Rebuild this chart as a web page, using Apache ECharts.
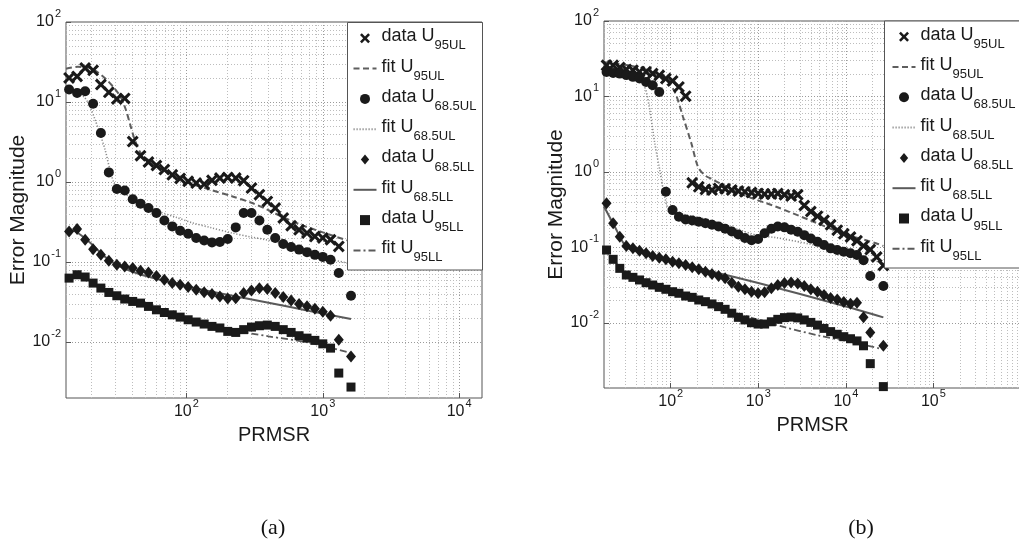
<!DOCTYPE html>
<html>
<head>
<meta charset="utf-8">
<script src="https://cdn.jsdelivr.net/npm/echarts@6/dist/echarts.min.js"></script>
<style>
  html, body { margin: 0; padding: 0; background: #fff; }
  #chart { width: 1019px; height: 556px; }
</style>
</head>
<body>
<div id="chart"></div>
<script>
// ---------- Panel (a) ----------
const xA = [13.8, 15.8, 18.1, 20.7, 23.6, 27.0, 30.9, 35.3, 40.4, 46.1, 52.7, 60.3, 68.9, 78.8, 90.0, 103, 118, 135, 154, 176, 201, 230, 263, 300, 343, 392, 448, 513, 586, 670, 766, 875, 1000, 1140, 1310, 1610];
const a_u95ul = [20.0, 20.9, 26.6, 24.9, 16.5, 13.2, 10.9, 11.1, 3.2, 2.13, 1.78, 1.61, 1.43, 1.23, 1.11, 1.02, 0.97, 0.94, 1.05, 1.12, 1.14, 1.12, 1.04, 0.84, 0.695, 0.573, 0.473, 0.355, 0.284, 0.253, 0.23, 0.209, 0.2, 0.19, 0.157, null];
const a_u685ul = [14.3, 13.0, 13.6, 9.5, 4.1, 1.32, 0.82, 0.785, 0.61, 0.537, 0.473, 0.41, 0.331, 0.279, 0.246, 0.226, 0.2, 0.186, 0.176, 0.178, 0.194, 0.271, 0.41, 0.41, 0.331, 0.253, 0.2, 0.168, 0.154, 0.143, 0.133, 0.123, 0.116, 0.107, 0.073, 0.038];
const a_u685ll = [0.241, 0.259, 0.19, 0.145, 0.123, 0.104, 0.0925, 0.088, 0.084, 0.078, 0.074, 0.067, 0.060, 0.0546, 0.052, 0.0487, 0.045, 0.042, 0.040, 0.037, 0.035, 0.0353, 0.041, 0.044, 0.047, 0.046, 0.041, 0.0365, 0.033, 0.030, 0.028, 0.026, 0.024, 0.0213, 0.0107, 0.0066];
const a_u95ll = [0.063, 0.0694, 0.065, 0.0546, 0.0473, 0.0417, 0.0379, 0.0345, 0.0322, 0.0307, 0.0279, 0.0253, 0.0234, 0.0219, 0.0205, 0.019, 0.0178, 0.0168, 0.0157, 0.015, 0.0136, 0.0132, 0.0143, 0.0154, 0.016, 0.0163, 0.0157, 0.0143, 0.0132, 0.012, 0.0112, 0.0105, 0.0095, 0.0084, 0.0041, 0.00274];

const a_fit95ul = [[13.1, 26], [16, 27.5], [19, 27], [22, 24], [26, 19], [30, 14.5], [33, 11.5], [36, 8], [39, 5.0], [42, 3.3], [47, 2.2], [55, 1.8], [75, 1.3], [100, 1.0], [150, 0.8], [218, 0.66], [300, 0.55], [384, 0.46], [500, 0.37], [700, 0.29], [1000, 0.235], [1610, 0.18]];
const a_fit685ul = [[13.1, 14], [15.6, 13], [17.8, 11.5], [19.5, 9], [21.4, 6.0], [23.3, 4], [25.4, 2.5], [27.5, 1.43], [30, 0.9], [33, 0.75], [40, 0.64], [50, 0.52], [65, 0.42], [85, 0.36], [110, 0.31], [150, 0.27], [218, 0.23], [300, 0.205], [384, 0.19], [500, 0.17], [700, 0.145], [1000, 0.115], [1610, 0.095]];
const a_fit685ll = [[13.1, 0.255], [15, 0.245], [17, 0.215], [20, 0.17], [23, 0.135], [26, 0.112], [30, 0.095], [35, 0.083], [45, 0.071], [60, 0.062], [100, 0.050], [200, 0.039], [400, 0.031], [800, 0.0245], [1610, 0.0194]];
const a_fit95ll = [[13.1, 0.066], [16, 0.065], [18, 0.06], [21, 0.052], [25, 0.045], [30, 0.04], [40, 0.034], [60, 0.027], [100, 0.02], [200, 0.0145], [400, 0.0118], [800, 0.0098], [1610, 0.0073]];

// ---------- Panel (b) ----------
const xB = [18.5, 22.0, 26.2, 31.1, 37.0, 44.0, 52.3, 62.2, 74.0, 88.0, 105, 124, 148, 176, 209, 249, 296, 352, 418, 498, 592, 704, 837, 995, 1180, 1410, 1670, 1990, 2370, 2820, 3350, 3980, 4740, 5630, 6700, 7970, 9470, 11300, 13400, 15900, 19000, 22500, 26800];
const b_u95ul = [25.9, 25.9, 24.2, 22.8, 22.3, 21.2, 21.2, 20.1, 19.1, 17.3, 16.1, 13.4, 10.1, 0.72, 0.637, 0.589, 0.577, 0.607, 0.6, 0.577, 0.56, 0.547, 0.535, 0.521, 0.51, 0.51, 0.52, 0.5, 0.48, 0.5, 0.36, 0.3, 0.26, 0.23, 0.2, 0.17, 0.152, 0.138, 0.123, 0.105, 0.094, 0.075, 0.058];
const b_u685ul = [21.1, 20.5, 20.1, 19.2, 18.2, 17.3, 15.6, 14.1, 11.5, 0.547, 0.313, 0.255, 0.236, 0.228, 0.22, 0.21, 0.2, 0.19, 0.177, 0.163, 0.149, 0.134, 0.125, 0.13, 0.155, 0.177, 0.19, 0.185, 0.172, 0.162, 0.146, 0.132, 0.119, 0.108, 0.0975, 0.093, 0.088, 0.084, 0.0795, 0.068, 0.042, null, 0.031];
const b_u685ll = [0.385, 0.209, 0.139, 0.105, 0.0975, 0.0908, 0.0837, 0.0772, 0.0733, 0.0698, 0.0649, 0.0618, 0.0587, 0.0547, 0.0515, 0.0479, 0.0447, 0.042, 0.0392, 0.0342, 0.0303, 0.028, 0.026, 0.0248, 0.0255, 0.029, 0.032, 0.034, 0.0345, 0.0335, 0.031, 0.028, 0.026, 0.0235, 0.0215, 0.0205, 0.019, 0.018, 0.0186, 0.0119, 0.0075, null, 0.005];
const b_u95ll = [0.0927, 0.0698, 0.053, 0.0433, 0.0403, 0.0372, 0.0342, 0.0319, 0.0297, 0.028, 0.026, 0.0248, 0.0228, 0.0219, 0.0202, 0.0192, 0.0179, 0.0165, 0.0152, 0.0135, 0.0119, 0.011, 0.0101, 0.0097, 0.0097, 0.0104, 0.0112, 0.0118, 0.012, 0.0117, 0.011, 0.0102, 0.0094, 0.0085, 0.0077, 0.0071, 0.0066, 0.0062, 0.0058, 0.005, 0.0029, null, 0.00144];

const b_fit95ul = [[17.3, 28.5], [32.6, 25.9], [55, 22.3], [85, 17.3], [111, 11.5], [138, 5.4], [172, 2.4], [205, 1.17], [244, 0.91], [300, 0.8], [400, 0.67], [667, 0.5], [1600, 0.347], [3845, 0.231], [9230, 0.154], [22100, 0.114], [26800, 0.105]];
const b_fit685ul = [[17.3, 23], [25, 22], [32, 20.5], [42.4, 18.2], [50.6, 13.4], [57.7, 6.6], [65.8, 2.4], [75, 1.06], [85.4, 0.47], [97, 0.31], [150, 0.27], [279, 0.231], [949, 0.146], [1600, 0.135], [4000, 0.11], [14300, 0.0755], [26800, 0.062]];
const b_fit685ll = [[17.3, 0.35], [23, 0.188], [29.8, 0.108], [35.6, 0.093], [60, 0.079], [100, 0.067], [300, 0.048], [1000, 0.034], [3000, 0.0242], [10000, 0.0166], [26800, 0.0119]];
const b_fit95ll = [[17.3, 0.095], [22, 0.07], [26, 0.055], [35.6, 0.042], [60, 0.032], [100, 0.026], [300, 0.017], [1000, 0.011], [2000, 0.0088], [5000, 0.0068], [10000, 0.0058], [26800, 0.0045]];

// Legend / series names; the part after "_" is drawn as a subscript
const NAMES = ['data U_95UL', 'fit U_95UL', 'data U_68.5UL', 'fit U_68.5UL', 'data U_68.5LL', 'fit U_68.5LL', 'data U_95LL', 'fit U_95LL'];

const FONT = '"Liberation Sans", Arial, Helvetica, sans-serif';
const INK = '#1a1a1a';
const X_PATH = 'path://M1.8,0L5,3.2L8.2,0L10,1.8L6.8,5L10,8.2L8.2,10L5,6.8L1.8,10L0,8.2L3.2,5L0,1.8Z';
const DIAMOND_PATH = 'path://M5,0L10,6L5,12L0,6Z';
const SQUARE_PATH = 'path://M0,0L10,0L10,10L0,10Z';

const MARKERS = [
  { symbol: X_PATH, symbolSize: 12 },
  { symbol: 'circle', symbolSize: 10 },
  { symbol: DIAMOND_PATH, symbolSize: [10, 12] },
  { symbol: SQUARE_PATH, symbolSize: 9 }
];
const FIT_STYLES = [
  { color: '#5e5e5e', width: 2, type: [6, 3.5] },
  { color: '#8a8a8a', width: 1.6, type: [1.2, 1.8] },
  { color: '#5a5a5a', width: 2, type: 'solid' },
  { color: '#5a5a5a', width: 1.8, type: [7, 3, 2, 3] }
];

const MAJOR = { color: '#9a9a9a', width: 1, type: [1, 2] };
const MINOR = { color: '#bdbdbd', width: 1, type: [1, 2] };

const PANELS = [
  {
    grid: { left: 66, top: 22, width: 416, height: 376 },
    xRange: [13.1, 14700], yRange: [0.002, 100],
    xs: xA, data: [a_u95ul, a_u685ul, a_u685ll, a_u95ll],
    fits: [a_fit95ul, a_fit685ul, a_fit685ll, a_fit95ll],
    legendPos: { left: 352.5, top: 24.3 },
    box: { x: 347.5, y: 22.5, w: 135, h: 247.5 },
    caption: { text: '(a)', x: 273, y: 528 }
  },
  {
    grid: { left: 604, top: 21, width: 417, height: 367 },
    xRange: [17.3, 1e6], yRange: [0.00138, 100],
    xs: xB, data: [b_u95ul, b_u685ul, b_u685ll, b_u95ll],
    fits: [b_fit95ul, b_fit685ul, b_fit685ll, b_fit95ll],
    legendPos: { left: 891.5, top: 22.7 },
    box: { x: 884.5, y: 21, w: 140, h: 247 },
    caption: { text: '(b)', x: 861, y: 528 }
  }
];

function points(xs, ys) {
  const out = [];
  xs.forEach((x, i) => { if (ys[i] != null) out.push([x, ys[i]]); });
  return out;
}

// Decade and sub-decade grid lines inside an axis range
function gridLines(range, key) {
  const lo = Math.floor(Math.log10(range[0]));
  const hi = Math.ceil(Math.log10(range[1]));
  const out = [];
  for (let e = lo; e <= hi; e++) {
    for (let m = 1; m <= 9; m++) {
      const v = parseFloat((m * Math.pow(10, e)).toPrecision(6));
      if (v <= range[0] * 1.001 || v >= range[1] * 0.999) continue;
      out.push({ [key]: v, lineStyle: m === 1 ? MAJOR : MINOR });
    }
  }
  return out;
}

function powerLabel(v) {
  const e = Math.log10(v);
  const r = Math.round(e);
  if (Math.abs(e - r) > 1e-6) return '';
  return '{b|10}{e|' + r + '}';
}

const tickRich = {
  b: { fontSize: 16, fontFamily: FONT, color: INK, verticalAlign: 'bottom' },
  e: { fontSize: 11, fontFamily: FONT, color: INK, verticalAlign: 'top', padding: [0, 0, 0, 1] }
};

const option = {
  animation: false,
  backgroundColor: '#ffffff',
  grid: [], xAxis: [], yAxis: [], series: [], legend: [], graphic: []
};

PANELS.forEach((p, k) => {
  option.grid.push(Object.assign({
    show: true, borderColor: '#555', borderWidth: 1, backgroundColor: '#fff',
    containLabel: false, outerBoundsMode: 'none'
  }, p.grid));

  option.xAxis.push({
    type: 'log', logBase: 10, gridIndex: k, min: p.xRange[0], max: p.xRange[1],
    name: 'PRMSR', nameLocation: 'middle', nameGap: 27,
    nameTextStyle: { fontSize: 20, fontFamily: FONT, color: INK },
    axisLine: { show: false },
    axisTick: { show: true, inside: true, length: 5, lineStyle: { color: '#555' } },
    splitLine: { show: false },
    axisLabel: {
      formatter: powerLabel, lineHeight: 22, margin: 0,
      showMinLabel: false, showMaxLabel: false, rich: tickRich
    }
  });
  option.yAxis.push({
    type: 'log', logBase: 10, gridIndex: k, min: p.yRange[0], max: p.yRange[1],
    name: 'Error Magnitude', nameLocation: 'middle', nameGap: 37,
    nameTextStyle: { fontSize: 21, fontFamily: FONT, color: INK },
    axisLine: { show: false },
    axisTick: { show: true, inside: true, length: 5, lineStyle: { color: '#555' } },
    splitLine: { show: false },
    axisLabel: {
      formatter: powerLabel, lineHeight: 22, margin: 5, padding: [0, 0, 6, 0],
      showMinLabel: false, rich: tickRich
    }
  });

  // dotted grid drawn through the axes' own scales, kept beneath the marks
  option.series.push({
    type: 'line', name: 'grid' + k, xAxisIndex: k, yAxisIndex: k, data: [],
    silent: true, z: 0,
    markLine: {
      z: 0, silent: true, animation: false, symbol: ['none', 'none'], label: { show: false },
      data: gridLines(p.xRange, 'xAxis').concat(gridLines(p.yRange, 'yAxis'))
    }
  });

  for (let s = 0; s < 4; s++) {
    option.series.push({
      type: 'scatter', name: NAMES[2 * s], xAxisIndex: k, yAxisIndex: k,
      symbol: MARKERS[s].symbol, symbolSize: MARKERS[s].symbolSize,
      itemStyle: { color: INK, opacity: 1 },
      data: points(p.xs, p.data[s]), z: 2
    });
    option.series.push({
      type: 'line', name: NAMES[2 * s + 1], xAxisIndex: k, yAxisIndex: k,
      symbol: 'none', showSymbol: false, smooth: 0.3, lineStyle: FIT_STYLES[s],
      // fits carry no markers, so the legend shows only their line
      itemStyle: { color: FIT_STYLES[s].color, opacity: 0 },
      data: p.fits[s], z: 2
    });
  }

  option.legend.push({
    orient: 'vertical', left: p.legendPos.left, top: p.legendPos.top, padding: 0,
    itemWidth: 23, itemHeight: 10, itemGap: 2.3, selectedMode: false, z: 20,
    symbolKeepAspect: true,
    data: NAMES,
    formatter: name => {
      const parts = name.split('_');
      return '{m|' + parts[0] + '}{s|' + parts[1] + '}';
    },
    textStyle: {
      color: INK, lineHeight: 28,
      rich: {
        m: { fontSize: 18, fontFamily: FONT, color: INK, verticalAlign: 'top', padding: [3, 0, 0, 0] },
        s: { fontSize: 13, fontFamily: FONT, color: INK, verticalAlign: 'bottom' }
      }
    }
  });

  option.graphic.push({
    type: 'rect', z: 15, silent: true,
    shape: { x: p.box.x, y: p.box.y, width: p.box.w, height: p.box.h },
    style: { fill: '#fff', stroke: '#555', lineWidth: 1 }
  });
  option.graphic.push({
    type: 'text', z: 15, silent: true, x: p.caption.x, y: p.caption.y,
    style: {
      text: p.caption.text, fontSize: 22, fontFamily: '"Liberation Serif", "Times New Roman", serif',
      fill: '#111', align: 'center', verticalAlign: 'middle'
    }
  });
});

const chart = echarts.init(document.getElementById('chart'));
chart.setOption(option);
</script>
</body>
</html>
